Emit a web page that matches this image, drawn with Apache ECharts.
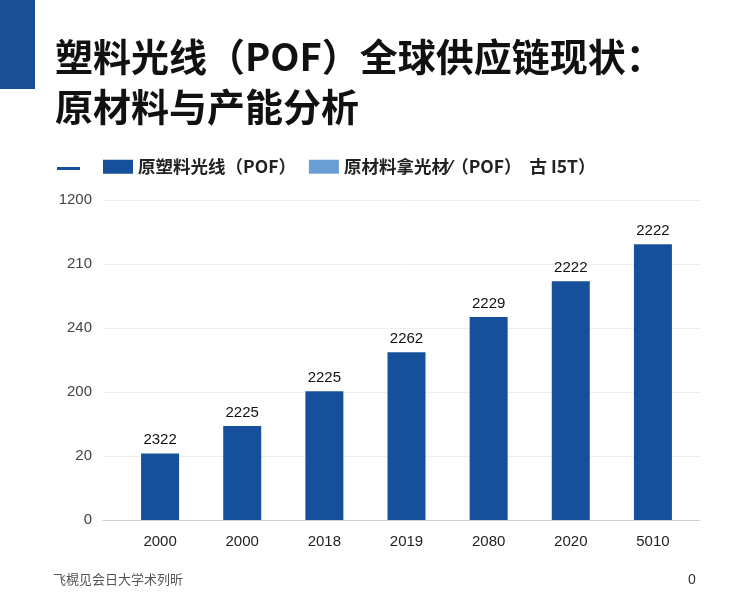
<!DOCTYPE html>
<html>
<head>
<meta charset="utf-8">
<script src="https://cdn.jsdelivr.net/npm/echarts@6/dist/echarts.min.js"></script>
<style>
html,body{margin:0;padding:0;background:#fff;}
#c{width:744px;height:608px;}
</style>
</head>
<body>
<div id="c"></div>
<script>
// ---- data ----
var titleText = '塑料光线（POF）全球供应链现状：\n原材料与产能分析';
var legendLine = ' ';
var seriesName1 = '原塑料光线（POF）';
var seriesName2 = '原材料拿光材⁄（POF）  古 I5T）';
var categories = ['2000', '2000', '2018', '2019', '2080', '2020', '5010'];
// bar heights in axis tick units (tick k sits at value k)
var values = [1.04, 1.47, 2.01, 2.62, 3.17, 3.73, 4.31];
var barLabels = ['2322', '2225', '2225', '2262', '2229', '2222', '2222'];
var yTickLabels = ['0', '20', '200', '240', '210', '1200'];
var footerText = '飞榥见会日大学术列昕';
var pageNumber = '0';

var FONT = '"Noto Sans CJK SC", "Noto Sans", sans-serif';
var NUMFONT = '"Liberation Sans", Arial, sans-serif';
var DARK = '#17509a';
var LIGHT = '#6a9fd6';

var chart = echarts.init(document.getElementById('c'), null, {renderer: 'canvas'});
chart.setOption({
  backgroundColor: '#ffffff',
  animation: false,
  color: [DARK, DARK, LIGHT],
  graphic: [{
    type: 'rect', left: 0, top: 0, shape: {width: 35, height: 89},
    style: {fill: '#1a4f96'}
  }],
  title: [{
    text: titleText, left: 55, top: 32, padding: 0,
    textStyle: {fontFamily: FONT, fontSize: 38, fontWeight: 'bold', color: '#111', lineHeight: 50}
  }, {
    text: footerText, left: 53, top: 573, padding: 0,
    textStyle: {fontFamily: FONT, fontSize: 13, fontWeight: 'normal', color: '#555'}
  }, {
    text: pageNumber, left: 688, top: 573, padding: 0,
    textStyle: {fontFamily: NUMFONT, fontSize: 14, fontWeight: 'normal', color: '#333'}
  }],
  legend: [{
    data: [legendLine], left: 57, top: 167, itemWidth: 23, itemHeight: 3, icon: 'rect',
    textStyle: {fontSize: 2}, padding: 0
  }, {
    data: [seriesName1, seriesName2], left: 103, top: 158, itemWidth: 30, itemHeight: 14, icon: 'rect',
    itemGap: 13, padding: 0,
    textStyle: {fontFamily: FONT, fontSize: 17.5, fontWeight: 600, color: '#222'}
  }],
  grid: [
    {left: 119, right: 50, top: 200, bottom: 88},
    {left: 103, right: 44, top: 200, bottom: 88}
  ],
  xAxis: [{
    type: 'category', gridIndex: 0, data: categories,
    axisLine: {show: false}, axisTick: {show: false},
    axisLabel: {margin: 14, fontFamily: NUMFONT, fontSize: 15, color: '#222'}
  }, {
    type: 'category', gridIndex: 1, data: categories,
    axisLine: {show: true, lineStyle: {color: '#cfcfcf', width: 1}},
    axisTick: {show: false}, axisLabel: {show: false}
  }],
  yAxis: [{
    type: 'value', gridIndex: 0, min: 0, max: 5, interval: 1,
    axisLabel: {show: false}, splitLine: {show: false}, axisLine: {show: false}, axisTick: {show: false}
  }, {
    type: 'value', gridIndex: 1, min: 0, max: 5, interval: 1,
    axisLine: {show: false}, axisTick: {show: false},
    splitLine: {lineStyle: {color: '#eeeeee', width: 1}},
    axisLabel: {
      margin: 11, fontFamily: NUMFONT, fontSize: 15, color: '#444',
      formatter: function (v) { return yTickLabels[Math.round(v)]; }
    }
  }],
  series: [{
    name: legendLine, type: 'line', xAxisIndex: 0, yAxisIndex: 0, data: [],
    symbol: 'none', lineStyle: {color: DARK, width: 3}, itemStyle: {color: DARK}
  }, {
    name: seriesName1, type: 'bar', xAxisIndex: 0, yAxisIndex: 0, data: values,
    barWidth: 38, barGap: '-100%', itemStyle: {color: DARK},
    label: {
      show: true, position: 'top', distance: 6, fontFamily: NUMFONT, fontSize: 15, color: '#111',
      formatter: function (p) { return barLabels[p.dataIndex]; }
    }
  }, {
    name: seriesName2, type: 'bar', xAxisIndex: 0, yAxisIndex: 0, data: [],
    barWidth: 38, barGap: '-100%', itemStyle: {color: LIGHT}
  }]
});
</script>
</body>
</html>
